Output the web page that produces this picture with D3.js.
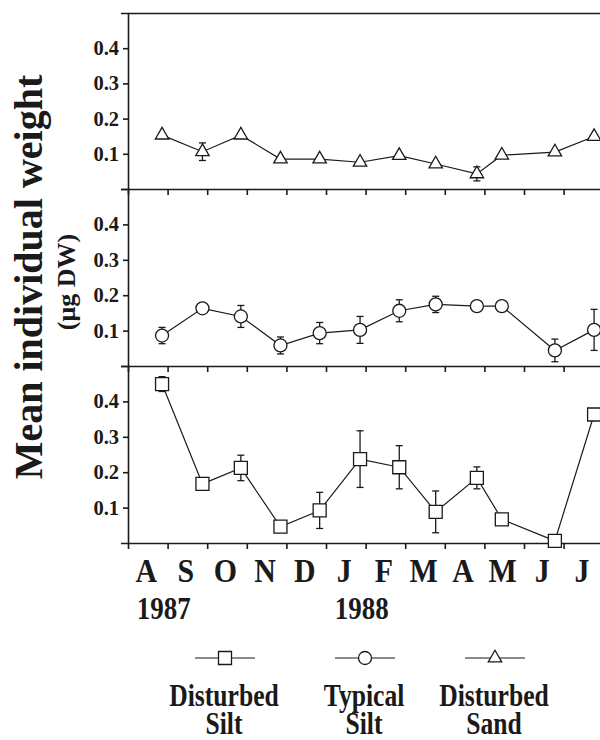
<!DOCTYPE html>
<html>
<head>
<meta charset="utf-8">
<script src="https://cdn.jsdelivr.net/npm/d3@7"></script>
<style>
  body { margin: 0; background: #fff; }
  svg { display: block; }
</style>
</head>
<body>
<svg width="600" height="740"></svg>
<script>
// month letters on the x axis, Aug 1987 .. Jul 1988
var months = ["A", "S", "O", "N", "D", "J", "F", "M", "A", "M", "J", "J"];
var years = [["1987", 0], ["1988", 5]];

// sampling dates, as months after 1 Aug 1987
var sampleMonth = [0.86, 1.88, 2.85, 3.85, 4.84, 5.86, 6.85, 7.77, 8.81, 9.44, 10.78, 11.77];

// mean individual weight (ug DW) and error (0 = no bar drawn)
var sandMean = [0.153, 0.106, 0.153, 0.085, 0.085, 0.076, 0.095, 0.071, 0.043, 0.096, 0.105, 0.149];
var sandErr = [0, 0.025, 0, 0, 0, 0, 0, 0, 0.02, 0, 0, 0];
var typicalMean = [0.086, 0.163, 0.14, 0.058, 0.093, 0.102, 0.156, 0.174, 0.169, 0.169, 0.044, 0.102];
var typicalErr = [0.023, 0, 0.031, 0.024, 0.03, 0.038, 0.031, 0.023, 0, 0, 0.032, 0.058];
var siltMean = [0.449, 0.167, 0.212, 0.046, 0.092, 0.237, 0.214, 0.088, 0.184, 0.067, 0.006, 0.363];
var siltErr = [0.021, 0, 0.036, 0, 0.051, 0.08, 0.061, 0.059, 0.031, 0, 0, 0];

var yTicks = [0.1, 0.2, 0.3, 0.4];

var svg = d3.select("svg"),
    serif = "'Liberation Serif', 'Times New Roman', serif";

var x = d3.scaleLinear().domain([0, 12]).range([128, 603.2]);

var shapes = {
  square: d3.symbol().type(d3.symbolSquare).size(169),
  circle: d3.symbol().type(d3.symbolCircle).size(133),
  triangle: d3.symbol().type(d3.symbolTriangle).size(78)
};

var panels = [
  {top: 13, bottom: 189, mean: sandMean, err: sandErr, shape: "triangle"},
  {top: 189, bottom: 366, mean: typicalMean, err: typicalErr, shape: "circle"},
  {top: 366, bottom: 543, mean: siltMean, err: siltErr, shape: "square"}
];

function styleAxis(g) {
  g.selectAll("path, line").attr("stroke", "#1a1a1a").attr("stroke-width", 1.6);
  g.selectAll("text")
    .attr("font-family", serif)
    .attr("font-weight", "bold")
    .attr("font-size", 20.5)
    .attr("fill", "#1a1a1a");
}

// top border
svg.append("g")
    .attr("transform", "translate(0,13)")
    .call(d3.axisTop(x).tickValues([]).tickSizeOuter(0))
    .call(styleAxis);

panels.forEach(function(p) {
  var y = d3.scaleLinear().domain([0, 0.5]).range([p.bottom, p.top]);

  svg.append("g")
      .attr("transform", "translate(0," + p.bottom + ")")
      .call(d3.axisBottom(x).tickValues(d3.range(0, 13)).tickSizeInner(6).tickSizeOuter(0).tickFormat(""))
      .call(styleAxis);

  svg.append("g")
      .attr("transform", "translate(128,0)")
      .call(d3.axisLeft(y).tickValues(yTicks).tickSizeInner(5).tickSizeOuter(7).tickPadding(4).tickFormat(d3.format(".1f")))
      .call(styleAxis);

  var pts = p.mean.map(function(v, i) { return {m: sampleMonth[i], v: v, e: p.err[i]}; });
  var g = svg.append("g");

  // error bars
  var eb = g.selectAll(".err")
    .data(pts.filter(function(d) { return d.e > 0; }))
    .enter().append("g")
      .attr("stroke", "#1a1a1a")
      .attr("stroke-width", 1.3);
  eb.append("line")
      .attr("x1", function(d) { return x(d.m); })
      .attr("x2", function(d) { return x(d.m); })
      .attr("y1", function(d) { return y(d.v + d.e); })
      .attr("y2", function(d) { return y(Math.max(0, d.v - d.e)); });
  [1, -1].forEach(function(s) {
    eb.append("line")
        .attr("x1", function(d) { return x(d.m) - 3.5; })
        .attr("x2", function(d) { return x(d.m) + 3.5; })
        .attr("y1", function(d) { return y(d.v + s * d.e); })
        .attr("y2", function(d) { return y(d.v + s * d.e); });
  });

  g.append("path")
      .datum(pts)
      .attr("fill", "none")
      .attr("stroke", "#1a1a1a")
      .attr("stroke-width", 1.2)
      .attr("d", d3.line().x(function(d) { return x(d.m); }).y(function(d) { return y(d.v); }));

  g.selectAll(".mk")
    .data(pts)
    .enter().append("path")
      .attr("transform", function(d) { return "translate(" + x(d.m) + "," + y(d.v) + ")"; })
      .attr("d", shapes[p.shape])
      .attr("fill", "#fff")
      .attr("stroke", "#1a1a1a")
      .attr("stroke-width", 1.3);
});

// month letters
svg.append("g").selectAll("text")
  .data(months)
  .enter().append("text")
    .attr("transform", function(d, i) { return "translate(" + (x(i + 0.5) - 1.5) + ",582) scale(0.88,1)"; })
    .attr("text-anchor", "middle")
    .attr("font-family", serif)
    .attr("font-weight", "bold")
    .attr("font-size", 34)
    .attr("fill", "#1a1a1a")
    .text(function(d) { return d; });

svg.append("g").selectAll("text")
  .data(years)
  .enter().append("text")
    .attr("transform", function(d) { return "translate(" + (x(d[1] + 0.5) + 16) + ",619) scale(0.87,1)"; })
    .attr("text-anchor", "middle")
    .attr("font-family", serif)
    .attr("font-weight", "bold")
    .attr("font-size", 31)
    .attr("fill", "#1a1a1a")
    .text(function(d) { return d[0]; });

// y axis title
svg.append("text")
    .attr("transform", "translate(42,277) rotate(-90)")
    .attr("text-anchor", "middle")
    .attr("font-family", serif)
    .attr("font-weight", "bold")
    .attr("font-size", 40)
    .attr("fill", "#1a1a1a")
    .text("Mean individual weight");

svg.append("text")
    .attr("transform", "translate(75,282) rotate(-90)")
    .attr("text-anchor", "middle")
    .attr("font-family", serif)
    .attr("font-weight", "bold")
    .attr("font-size", 26)
    .attr("fill", "#1a1a1a")
    .text("(\u03bcg DW)");

// legend
var legend = [
  {cx: 225, shape: "square", label: ["Disturbed", "Silt"]},
  {cx: 365, shape: "circle", label: ["Typical", "Silt"]},
  {cx: 495, shape: "triangle", label: ["Disturbed", "Sand"]}
];

var lg = svg.append("g").selectAll("g")
  .data(legend)
  .enter().append("g")
    .attr("transform", function(d) { return "translate(" + d.cx + ",0)"; });

lg.append("line")
    .attr("x1", -30).attr("x2", 30)
    .attr("y1", 658).attr("y2", 658)
    .attr("stroke", "#1a1a1a")
    .attr("stroke-width", 1.2);

lg.append("path")
    .attr("transform", "translate(0,658)")
    .attr("d", function(d) { return shapes[d.shape](); })
    .attr("fill", "#fff")
    .attr("stroke", "#1a1a1a")
    .attr("stroke-width", 1.3);

lg.each(function(d) {
  var sel = d3.select(this);
  d.label.forEach(function(t, j) {
    sel.append("text")
        .attr("transform", "translate(-1," + (706 + j * 28) + ") scale(0.8,1)")
        .attr("text-anchor", "middle")
        .attr("font-family", serif)
        .attr("font-weight", "bold")
        .attr("font-size", 32)
        .attr("fill", "#1a1a1a")
        .text(t);
  });
});
</script>
</body>
</html>
